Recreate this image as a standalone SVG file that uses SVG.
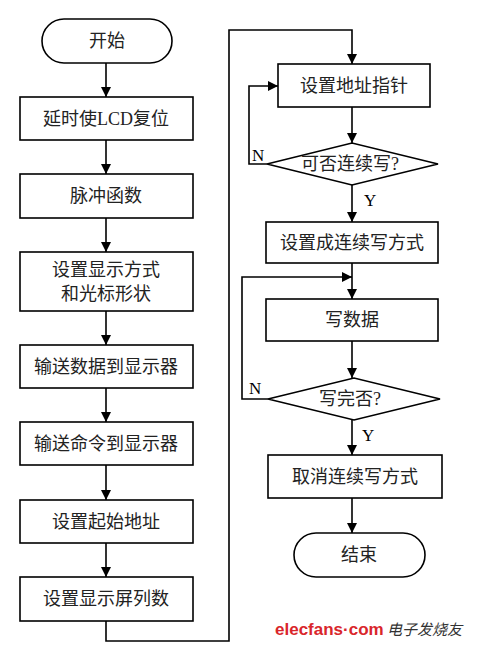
<svg xmlns="http://www.w3.org/2000/svg" width="480" height="648" viewBox="0 0 480 648">
<style>
.b{fill:#fff;stroke:#000;stroke-width:1.6}
.t{font-family:"Liberation Serif","Noto Sans CJK SC",serif;font-size:18px;fill:#222;text-anchor:middle;dominant-baseline:central}
.l{font-family:"Liberation Serif",serif;font-size:17px;fill:#000}
.c{fill:none;stroke:#000;stroke-width:1.6}
</style>
<defs>
<marker id="a" viewBox="0 0 10 10" refX="10" refY="5" markerWidth="10" markerHeight="10" markerUnits="userSpaceOnUse" orient="auto">
<path d="M0,0L10,5L0,10z" fill="#000"/>
</marker>
</defs>
<rect width="480" height="648" fill="#fff"/>
<g id="connectors">
<path class="c" d="M106,63V97" marker-end="url(#a)"/>
<path class="c" d="M106,140V174" marker-end="url(#a)"/>
<path class="c" d="M106,218V252" marker-end="url(#a)"/>
<path class="c" d="M106,311V345" marker-end="url(#a)"/>
<path class="c" d="M106,388V422" marker-end="url(#a)"/>
<path class="c" d="M106,465V500" marker-end="url(#a)"/>
<path class="c" d="M106,543V577" marker-end="url(#a)"/>
<path class="c" d="M106,621V641H229V30H352V64" marker-end="url(#a)"/>
<path class="c" d="M352,107V143" marker-end="url(#a)"/>
<path class="c" d="M267,164H249V86H278" marker-end="url(#a)"/>
<path class="c" d="M352,185V222" marker-end="url(#a)"/>
<path class="c" d="M352,263V299" marker-end="url(#a)"/>
<path class="c" d="M268,399H242V277H352" marker-end="url(#a)"/>
<path class="c" d="M352,341V378" marker-end="url(#a)"/>
<path class="c" d="M352,420V455" marker-end="url(#a)"/>
<path class="c" d="M352,498V533" marker-end="url(#a)"/>
</g>
<g id="start"><rect class="b" x="42" y="19" width="130" height="44" rx="22"/><text class="t" x="107" y="41">开始</text></g>
<g id="n1"><rect class="b" x="20" y="97" width="173" height="43"/><text class="t" x="106" y="118.5">延时使LCD复位</text></g>
<g id="n2"><rect class="b" x="20" y="174" width="173" height="44"/><text class="t" x="106" y="196">脉冲函数</text></g>
<g id="n3"><rect class="b" x="20" y="252" width="173" height="59"/><text class="t" x="106" y="270">设置显示方式</text><text class="t" x="106" y="294">和光标形状</text></g>
<g id="n4"><rect class="b" x="20" y="345" width="173" height="43"/><text class="t" x="106" y="366.5">输送数据到显示器</text></g>
<g id="n5"><rect class="b" x="20" y="422" width="173" height="43"/><text class="t" x="106" y="443.5">输送命令到显示器</text></g>
<g id="n6"><rect class="b" x="20" y="500" width="173" height="43"/><text class="t" x="106" y="521.5">设置起始地址</text></g>
<g id="n7"><rect class="b" x="20" y="577" width="173" height="44"/><text class="t" x="106" y="599">设置显示屏列数</text></g>
<g id="r1"><rect class="b" x="278" y="64" width="152" height="43"/><text class="t" x="354" y="85.5">设置地址指针</text></g>
<g id="d1"><path class="b" d="M267,164L352,143L438,164L352,185Z"/><text class="t" x="350" y="164">可否连续写?</text></g>
<g id="r2"><rect class="b" x="266" y="222" width="172" height="41"/><text class="t" x="352" y="242.5">设置成连续写方式</text></g>
<g id="r3"><rect class="b" x="266" y="299" width="172" height="42"/><text class="t" x="352" y="320">写数据</text></g>
<g id="d2"><path class="b" d="M268,399L354,378L440,399L354,420Z"/><text class="t" x="350" y="399">写完否?</text></g>
<g id="r4"><rect class="b" x="268" y="455" width="174" height="43"/><text class="t" x="355" y="476.5">取消连续写方式</text></g>
<g id="end"><rect class="b" x="294" y="533" width="131" height="44" rx="22"/><text class="t" x="359" y="555">结束</text></g>
<g id="labels">
<text class="l" x="252" y="161">N</text>
<text class="l" x="364" y="206">Y</text>
<text class="l" x="249" y="394">N</text>
<text class="l" x="362" y="441">Y</text>
</g>
<g id="watermark">
<text x="275" y="635" font-family="Liberation Sans,sans-serif" font-size="17" font-weight="bold" fill="#d9262b">elecfans·com</text>
<text x="387" y="635" font-family="Noto Sans CJK SC,sans-serif" font-size="15" font-style="italic" fill="#333">电子发烧友</text>
</g>
</svg>
